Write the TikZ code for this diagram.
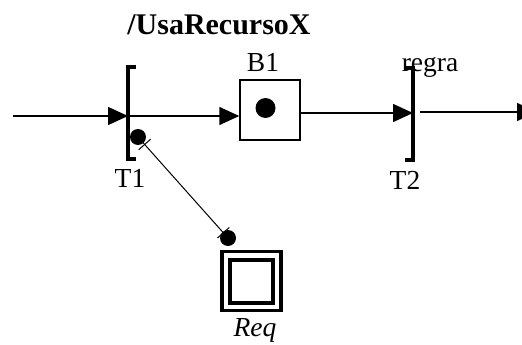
\documentclass[tikz,border=0pt]{standalone}
\usepackage{fontspec}
\setmainfont{Liberation Serif}
\usetikzlibrary{arrows.meta,decorations.markings}
\begin{document}
\begin{tikzpicture}[x=1pt,y=-1pt,
  txt/.style={font=\fontsize{27.5}{30}\selectfont, inner sep=0, anchor=base},
  arr/.style={line width=1.5pt, -{Triangle[length=20pt,width=18pt]}},
  bar/.style={line width=3.8pt},
  placebox/.style={draw, line width=1.5pt, minimum size=60pt, inner sep=0},
  tok/.style={circle, fill, inner sep=0, minimum size=20pt},
  dotend/.style={circle, fill, inner sep=0, minimum size=16pt},
  transbar/.style={inner sep=0, minimum width=0pt, minimum height=92pt},
  resbox/.style={draw, line width=3.8pt, inner sep=0},
]
\useasboundingbox (0,0) rectangle (522,345);

% title
\node[txt, font=\fontsize{30}{32}\selectfont\bfseries] (title) at (219,35) {/UsaRecursoX};

% transitions
\node[transbar] (T1) at (128,113) {};
\node[transbar] (T2) at (413,114) {};
\draw[bar] ([xshift=8pt]T1.north) -- (T1.north) -- (T1.south) -- ([xshift=8pt]T1.south);
\draw[bar] ([xshift=-8pt]T2.north) -- (T2.north) -- (T2.south) -- ([xshift=-8pt]T2.south);
\node[txt] (T1l) at (130,187) {T1};
\node[txt] (T2l) at (405,189) {T2};
\node[txt] (regra) at (430,72) {regra};

% place B1
\node[placebox] (B1) at (270,110) {};
\node[tok] (B1tok) at (265.5,108) {};
\node[txt] (B1l) at (263,72) {B1};

% arcs
\coordinate (in) at (13,116);
\coordinate (out) at (537,112);
\draw[arr] (in) -- (in -| T1.center);
\draw[arr] (T1.center |- in) -- (in -| B1.west);
\draw[arr] (B1.east |- 0,113) -- (T2.center |- 0,113);
\draw[arr, shorten <=7pt] (T2.center |- out) -- (out);

% resource Req
\node[resbox, minimum size=59pt] (Req) at (251.5,281) {};
\node[resbox, minimum size=43pt] (Reqin) at (251.5,281.5) {};
\node[txt, font=\fontsize{27.5}{30}\selectfont\itshape] (Reql) at (255,336) {Req};

% test arc with dot ends
\node[dotend] (d1) at (138,137) {};
\node[dotend] (d2) at (228,238) {};
\draw[line width=1pt, postaction={decorate},
  decoration={markings,
    mark=at position 10pt with {\draw[line width=1pt] (0pt,-8pt) -- (0pt,8pt);},
    mark=at position -7pt with {\draw[line width=1pt] (0pt,-8pt) -- (0pt,8pt);}}]
  (d1.center) -- (d2.center);
\end{tikzpicture}
\end{document}
